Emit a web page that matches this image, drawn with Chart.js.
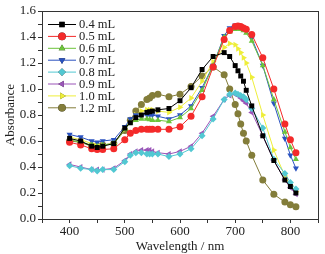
<!DOCTYPE html>
<html>
<head>
<meta charset="utf-8">
<script src="https://cdn.jsdelivr.net/npm/chart.js@4.4.0/dist/chart.umd.min.js"></script>
<style>
  html, body { margin: 0; padding: 0; background: #fff; }
  #wrap { width: 325px; height: 254px; }
</style>
</head>
<body>
<div id="wrap"><canvas id="chart" width="325" height="254"></canvas></div>
<script>
// wavelengths (nm)
const wavelengths = [400, 420, 440, 450, 460, 480, 500, 510, 520, 530, 540, 545, 550, 560, 580, 600,
  620, 640, 660, 680, 690, 700, 705, 710, 715, 720, 730, 750, 770, 790, 800, 810];

const seriesNames = ["0.4 mL", "0.5 mL", "0.6 mL", "0.7 mL", "0.8 mL", "0.9 mL", "1.0 mL", "1.2 mL"];

const abs04 = [0.62, 0.60, 0.56, 0.55, 0.56, 0.58, 0.70, 0.74, 0.78, 0.80, 0.82, 0.825, 0.83, 0.84, 0.85, 0.91,
  1.01, 1.15, 1.25, 1.28, 1.25, 1.18, 1.14, 1.10, 1.06, 0.99, 0.87, 0.64, 0.45, 0.30, 0.25, 0.20];
const abs05 = [0.59, 0.57, 0.54, 0.535, 0.535, 0.54, 0.61, 0.66, 0.68, 0.69, 0.69, 0.69, 0.69, 0.69, 0.69, 0.71,
  0.79, 0.94, 1.17, 1.38, 1.45, 1.48, 1.485, 1.48, 1.47, 1.46, 1.42, 1.24, 1.00, 0.73, 0.61, 0.51];
const abs06 = [0.61, 0.59, 0.57, 0.56, 0.57, 0.58, 0.69, 0.74, 0.76, 0.77, 0.77, 0.765, 0.76, 0.76, 0.75, 0.78,
  0.85, 0.99, 1.18, 1.40, 1.44, 1.46, 1.465, 1.46, 1.45, 1.43, 1.37, 1.18, 0.92, 0.67, 0.55, 0.46];
const abs07 = [0.65, 0.63, 0.60, 0.59, 0.60, 0.61, 0.71, 0.77, 0.80, 0.80, 0.80, 0.80, 0.80, 0.79, 0.77, 0.80,
  0.87, 1.01, 1.18, 1.41, 1.47, 1.49, 1.49, 1.485, 1.47, 1.45, 1.39, 1.18, 0.89, 0.62, 0.49, 0.39];
const abs08 = [0.41, 0.39, 0.38, 0.37, 0.38, 0.38, 0.44, 0.49, 0.51, 0.51, 0.50, 0.50, 0.50, 0.50, 0.48, 0.50,
  0.54, 0.64, 0.77, 0.92, 0.96, 0.97, 0.96, 0.95, 0.94, 0.92, 0.85, 0.70, 0.46, 0.35, 0.28, 0.23];
const abs09 = [0.42, 0.40, 0.38, 0.38, 0.38, 0.39, 0.45, 0.50, 0.52, 0.53, 0.53, 0.53, 0.52, 0.51, 0.50, 0.52,
  0.56, 0.66, 0.79, 0.92, 0.95, 0.96, 0.95, 0.93, 0.91, 0.89, 0.82, 0.64, 0.45, 0.30, 0.24, 0.19];
const abs10 = [0.63, 0.61, 0.58, 0.57, 0.57, 0.58, 0.69, 0.76, 0.80, 0.83, 0.84, 0.84, 0.84, 0.83, 0.82, 0.86,
  0.93, 1.06, 1.21, 1.32, 1.35, 1.34, 1.31, 1.28, 1.24, 1.20, 1.09, 0.80, 0.53, 0.33, 0.26, 0.21];
const abs12 = [0.60, 0.59, 0.56, 0.56, 0.57, 0.58, 0.68, 0.76, 0.83, 0.88, 0.92, 0.93, 0.95, 0.96, 0.94, 0.96,
  1.02, 1.10, 1.17, 1.11, 1.00, 0.88, 0.81, 0.73, 0.66, 0.60, 0.49, 0.30, 0.19, 0.13, 0.11, 0.095];

const xTicks = [400, 500, 600, 700, 800];
const yTicks = [0.0, 0.2, 0.4, 0.6, 0.8, 1.0, 1.2, 1.4, 1.6];

const allValues = [abs04, abs05, abs06, abs07, abs08, abs09, abs10, abs12];
const colors = ["#000000", "#f42a2a", "#6cc43a", "#2a52c0", "#52c8d2", "#9b55b8", "#eeee3a", "#837d3a"];
const markers = ["rect", "circle", "triangle", "triangle", "rectRot", "triangle", "triangle", "circle"];
const rotations = [0, 0, 0, 180, 0, 270, 90, 0];

const serif = "'Liberation Serif', 'DejaVu Serif', serif";

const datasets = seriesNames.map((name, i) => ({
  label: name,
  data: wavelengths.map((w, j) => ({ x: w, y: allValues[i][j] })),
  borderColor: colors[i],
  backgroundColor: colors[i],
  borderWidth: 1,
  pointStyle: markers[i],
  rotation: rotations[i],
  pointRadius: 3.5,
  pointBorderWidth: 0,
  pointHoverRadius: 3.5,
  tension: 0
}));

// draws the frame box and the legend inside the plot
const framePlugin = {
  id: "frame",
  afterDraw(chart) {
    const ctx = chart.ctx;
    const a = chart.chartArea;
    ctx.save();
    ctx.strokeStyle = "#333";
    ctx.lineWidth = 1;
    ctx.strokeRect(a.left + 0.5, a.top + 0.5, a.right - a.left, a.bottom - a.top);

    ctx.font = "12.5px " + serif;
    ctx.textBaseline = "middle";
    ctx.fillStyle = "#222";
    chart.data.datasets.forEach((ds, i) => {
      const y = 24.5 + i * 11.9;
      const x0 = 48, x1 = 76;
      ctx.strokeStyle = ds.borderColor;
      ctx.lineWidth = 1;
      ctx.beginPath();
      ctx.moveTo(x0, y);
      ctx.lineTo(x1, y);
      ctx.stroke();
      Chart.helpers.drawPoint(ctx, {
        pointStyle: ds.pointStyle,
        rotation: ds.rotation,
        radius: 3.8,
        borderWidth: 0
      }, (x0 + x1) / 2, y);
      ctx.fillStyle = ds.backgroundColor;
      ctx.fill();
      ctx.fillStyle = "#222";
      ctx.fillText(ds.label, 79, y + 0.5);
    });
    ctx.restore();
  }
};

new Chart(document.getElementById("chart"), {
  type: "line",
  data: { datasets },
  options: {
    responsive: false,
    animation: false,
    layout: { padding: { top: 11, right: 7, left: 3, bottom: 0 } },
    plugins: { legend: { display: false }, tooltip: { enabled: false } },
    scales: {
      x: {
        type: "linear",
        min: 350,
        max: 850,
        afterBuildTicks(scale) {
          const t = [];
          for (let v = 350; v <= 850; v += 50) t.push({ value: v });
          scale.ticks = t;
        },
        afterFit(scale) { scale.height = 35; },
        ticks: {
          color: "#222",
          font: { family: serif, size: 13 },
          padding: 1,
          maxRotation: 0,
          autoSkip: false,
          callback: (v) => xTicks.includes(v) ? String(v) : ""
        },
        grid: { display: true, drawOnChartArea: false, drawTicks: true, tickLength: 4, color: "#333" },
        border: { display: true, color: "#333" },
        title: { display: true, text: "Wavelength / nm", color: "#222", font: { family: serif, size: 13 }, padding: { top: 0, bottom: 0 } }
      },
      y: {
        min: 0,
        max: 1.6,
        afterBuildTicks(scale) {
          const t = [];
          for (let k = 0; k <= 16; k++) t.push({ value: k / 10 });
          scale.ticks = t;
        },
        afterFit(scale) { scale.width = 39; },
        ticks: {
          color: "#222",
          font: { family: serif, size: 13 },
          padding: 2,
          autoSkip: false,
          callback: (v) => {
            const r = Math.round(v * 10);
            return r % 2 === 0 ? (r / 10).toFixed(1) : "";
          }
        },
        grid: { display: true, drawOnChartArea: false, drawTicks: true, tickLength: 4, color: "#333" },
        border: { display: true, color: "#333" },
        title: { display: true, text: "Absorbance", color: "#222", font: { family: serif, size: 13 }, padding: { top: 0, bottom: 2 } }
      }
    }
  },
  plugins: [framePlugin]
});
</script>
</body>
</html>
